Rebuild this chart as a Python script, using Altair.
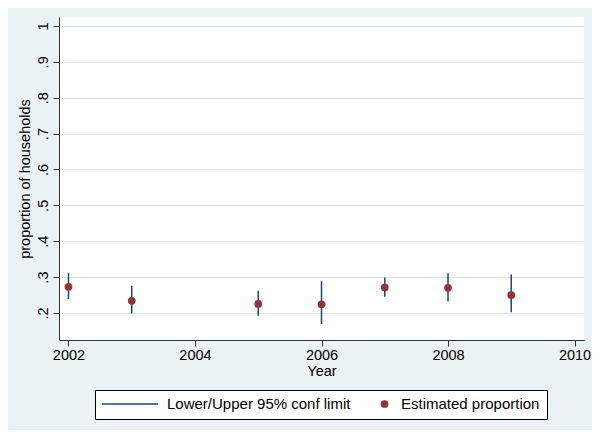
import altair as alt
import pandas as pd

# ---- data ----
years = [2002, 2003, 2005, 2006, 2007, 2008, 2009]
proportion = [0.273, 0.234, 0.225, 0.224, 0.271, 0.270, 0.250]
upper = [0.311, 0.276, 0.262, 0.288, 0.299, 0.311, 0.307]
lower = [0.239, 0.199, 0.192, 0.169, 0.245, 0.232, 0.202]

x_ticks = [2002, 2004, 2006, 2008, 2010]
y_ticks = [0.2, 0.3, 0.4, 0.5, 0.6, 0.7, 0.8, 0.9, 1.0]

CI_LABEL = "Lower/Upper 95% conf limit"
EST_LABEL = "Estimated proportion"
series_domain = [CI_LABEL, EST_LABEL]

NAVY = "#1A476F"
MAROON = "#90353B"
BG = "#EAF2F3"
GRID = "#DFE9EC"
FONT = "Liberation Sans"

df = pd.DataFrame({
    "year": years,
    "prop": proportion,
    "upper": upper,
    "lower": lower,
    "ci": [CI_LABEL] * len(years),
    "est": [EST_LABEL] * len(years),
})

LINE_PATH = "M-1,-0.026H1V0.026H-1Z"

color_scale = alt.Scale(domain=series_domain, range=[NAVY, MAROON])
shape_scale = alt.Scale(domain=series_domain, range=[LINE_PATH, "circle"])
size_scale = alt.Scale(domain=series_domain, range=[3136, 60])

x_enc = alt.X(
    "year:Q",
    scale=alt.Scale(domain=[2001.85, 2010.15], nice=False, zero=False),
    axis=alt.Axis(values=x_ticks, format="d", title="Year", grid=False),
)
y_scale = alt.Scale(domain=[0.1246, 1.025], nice=False, zero=False)

rules = alt.Chart(df).mark_rule(strokeWidth=1.5).encode(
    x=x_enc,
    y=alt.Y(
        "lower:Q",
        scale=y_scale,
        axis=alt.Axis(
            values=y_ticks,
            title="proportion of households",
            labelExpr="datum.value >= 0.999 ? '1' : replace(format(datum.value, '.1f'), '0.', '.')",
            labelAngle=270,
            grid=True,
        ),
    ),
    y2="upper:Q",
    color=alt.Color("ci:N", scale=color_scale, title=None),
)

points = alt.Chart(df).mark_point(filled=True, opacity=1).encode(
    x=alt.X("year:Q"),
    y=alt.Y("prop:Q"),
    color=alt.Color("est:N", scale=color_scale, title=None),
    shape=alt.Shape("est:N", scale=shape_scale, title=None),
    size=alt.Size("est:N", scale=size_scale, title=None),
)

chart = (
    alt.layer(rules, points)
    .properties(
        width=525,
        height=323,
        autosize=alt.AutoSizeParams(type="none"),
        padding={"left": 51, "top": 9, "right": 8, "bottom": 90},
        background=BG,
    )
    .configure_view(fill="white", stroke=None)
    .configure_axis(
        labelFont=FONT,
        titleFont=FONT,
        labelFontSize=14.5,
        titleFontSize=14.5,
        labelColor="#000000",
        titleColor="#000000",
        titleFontWeight="normal",
        domainColor="#333333",
        tickColor="#333333",
        tickSize=6,
        gridColor=GRID,
        gridWidth=1,
    )
    .configure_axisX(labelPadding=2, titlePadding=3)
    .configure_axisY(labelPadding=3, titlePadding=3)
    .configure_legend(
        orient="none",
        legendX=36,
        legendY=373,
        direction="horizontal",
        fillColor="white",
        strokeColor="#000000",
        padding=7,
        clipHeight=14,
        labelFont=FONT,
        labelFontSize=15,
        labelColor="#000000",
        labelOffset=9,
        columnPadding=26,
        symbolStrokeWidth=0,
        labelLimit=400,
    )
)

chart.save("out.html", embed_options={"renderer": "svg", "actions": False})
